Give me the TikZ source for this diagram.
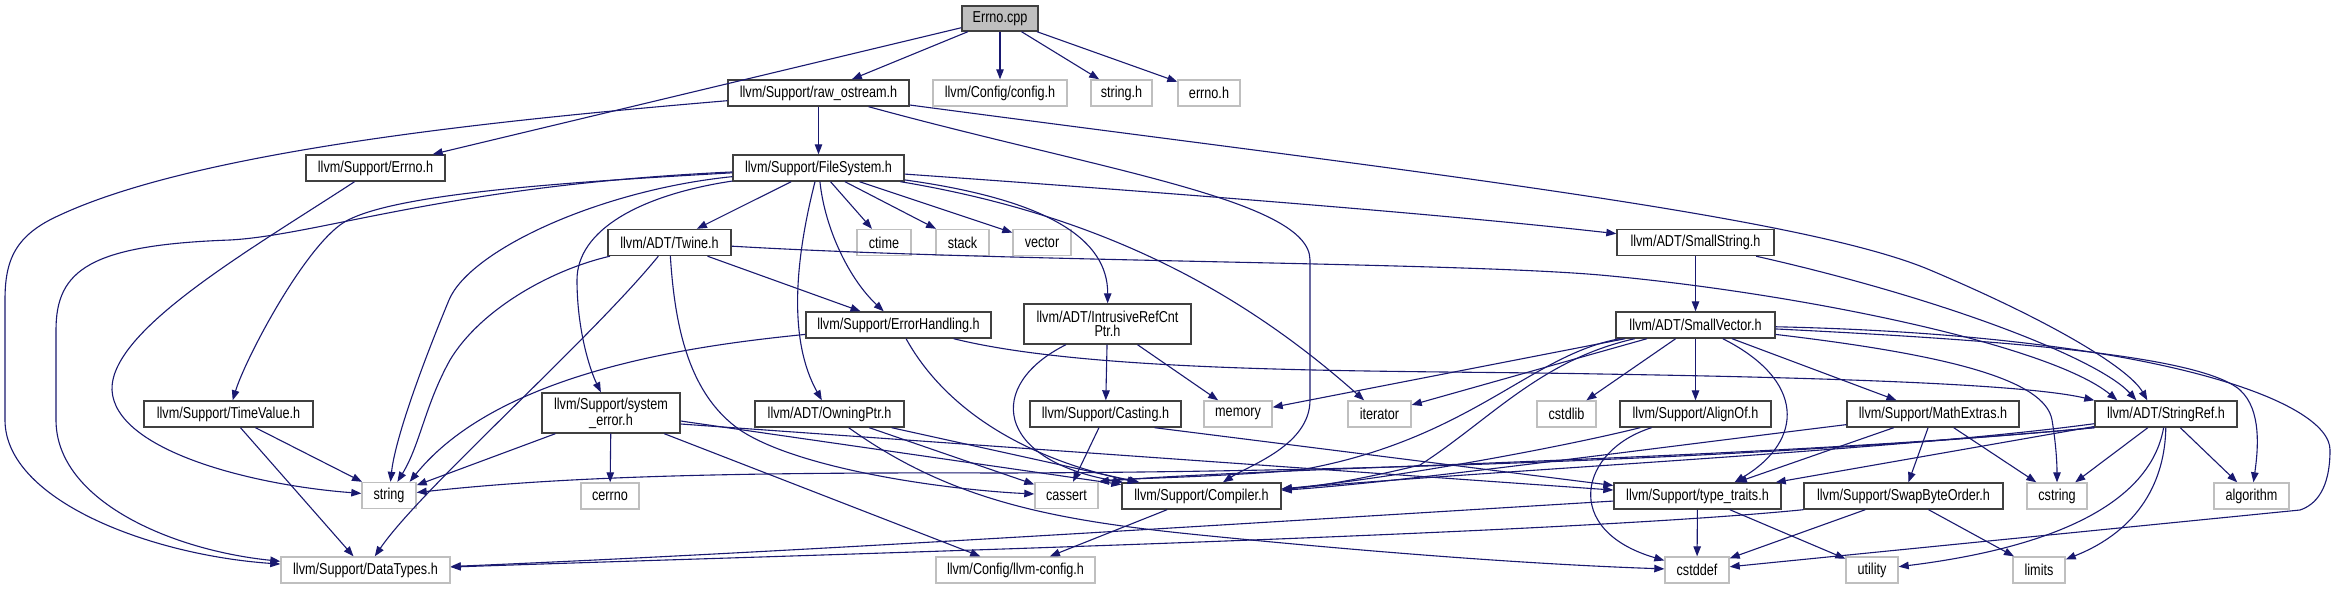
\documentclass[tikz,border=0pt]{standalone}
\usepackage{fontspec}
\newfontfamily\dox[FakeStretch=0.80]{Liberation Sans}
\usetikzlibrary{arrows.meta}
\definecolor{edgeblue}{HTML}{191970}
\definecolor{boxgray}{HTML}{BFBFBF}
\definecolor{boxdark}{HTML}{404040}
\begin{document}
\begin{tikzpicture}[x=1pt,y=-1pt,
  nd/.style={draw=boxdark,line width=1.4pt,fill=white,inner sep=0pt,minimum height=26pt,font={\dox\fontsize{15.8}{14.5}\selectfont}},
  ext/.style={nd,draw=boxgray},
  two/.style={minimum height=40pt,align=center},
  e/.style={draw=edgeblue,line width=1.1pt,-{Triangle[length=10pt,width=7.5pt]}}]
\fill[white] (0,0) rectangle (2336,589);
\useasboundingbox (0,0) rectangle (2336,589);
% nodes
\node[nd,fill=boxgray,minimum width=76pt,minimum height=25pt] (cpp) at (1000,18.5) {Errno.cpp};
\node[nd,minimum width=181pt] (raw) at (818.5,93) {llvm/Support/raw\_ostream.h};
\node[ext,minimum width=134pt] (cfg) at (1000,93) {llvm/Config/config.h};
\node[ext,minimum width=61pt] (strh) at (1121.5,93) {string.h};
\node[ext,minimum width=62pt] (errnoh) at (1209,93) {errno.h};
\node[nd,minimum width=139pt] (errh) at (375.5,168) {llvm/Support/Errno.h};
\node[nd,minimum width=171pt] (fs) at (818.5,168) {llvm/Support/FileSystem.h};
\node[nd,minimum width=123pt] (twine) at (669.5,242.5) {llvm/ADT/Twine.h};
\node[ext,minimum width=54pt] (ctime) at (884,242.5) {ctime};
\node[ext,minimum width=53pt] (stack) at (962.5,242.5) {stack};
\node[ext,minimum width=58pt] (vector) at (1042,242.5) {vector};
\node[nd,minimum width=157pt] (sstr) at (1695.5,242.5) {llvm/ADT/SmallString.h};
\node[nd,minimum width=185pt] (eh) at (898.5,325) {llvm/Support/ErrorHandling.h};
\node[nd,two,minimum width=167pt] (irc) at (1107.5,324) {llvm/ADT/IntrusiveRefCnt\\Ptr.h};
\node[nd,minimum width=159pt] (svec) at (1695.5,325) {llvm/ADT/SmallVector.h};
\node[nd,minimum width=169pt] (tv) at (228.5,414) {llvm/Support/TimeValue.h};
\node[nd,two,minimum width=138pt] (se) at (611,413) {llvm/Support/system\\\_error.h};
\node[nd,minimum width=149pt] (own) at (829.5,414) {llvm/ADT/OwningPtr.h};
\node[nd,minimum width=151pt] (cast) at (1105.5,414) {llvm/Support/Casting.h};
\node[ext,minimum width=68pt] (memory) at (1238,414) {memory};
\node[ext,minimum width=63pt] (iter) at (1379.5,414) {iterator};
\node[ext,minimum width=59pt] (cstdlib) at (1566.5,414) {cstdlib};
\node[nd,minimum width=151pt] (align) at (1695.5,414) {llvm/Support/AlignOf.h};
\node[nd,minimum width=172pt] (math) at (1933,414) {llvm/Support/MathExtras.h};
\node[nd,minimum width=142pt] (sref) at (2166,414) {llvm/ADT/StringRef.h};
\node[ext,minimum width=54pt] (string) at (389,495.5) {string};
\node[ext,minimum width=58pt] (cerrno) at (610,496) {cerrno};
\node[ext,minimum width=63pt] (cassert) at (1066.5,495.5) {cassert};
\node[nd,minimum width=159pt] (comp) at (1201.5,496) {llvm/Support/Compiler.h};
\node[nd,minimum width=167pt] (tt) at (1697.5,496) {llvm/Support/type\_traits.h};
\node[nd,minimum width=199pt] (swap) at (1903.5,496) {llvm/Support/SwapByteOrder.h};
\node[ext,minimum width=60pt] (cstring) at (2057,496) {cstring};
\node[ext,minimum width=75pt] (algo) at (2251.5,496) {algorithm};
\node[ext,minimum width=169pt] (dt) at (365.5,570) {llvm/Support/DataTypes.h};
\node[ext,minimum width=159pt] (llcfg) at (1015.5,570) {llvm/Config/llvm-config.h};
\node[ext,minimum width=64pt] (cstddef) at (1697,570) {cstddef};
\node[ext,minimum width=52pt] (utility) at (1872,570) {utility};
\node[ext,minimum width=52pt] (limits) at (2039,570) {limits};
% Errno.cpp
\draw[e] (cpp) -- (errh);
\draw[e] (cpp) -- (raw);
\draw[e] (cpp) -- (cfg);
\draw[e] (cpp) -- (strh);
\draw[e] (cpp) -- (errnoh);
% raw_ostream
\draw[e] (raw) -- (fs);
\draw[e] (raw) .. controls (500,120) and (200,150) .. (60,215) .. controls (15,235) and (5,260) .. (5,300) -- (5,420) .. controls (5,500) and (150,555) .. (dt);
\draw[e] (raw) .. controls (1100,170) and (1310,200) .. (1310,260) -- (1310,400) .. controls (1310,445) and (1250,465) .. (comp);
\draw[e] (raw) .. controls (1400,170) and (1800,215) .. (1930,270) .. controls (2060,325) and (2130,370) .. ([xshift=53pt]sref.north west);
% Errno.h
\draw[e] (errh) .. controls (250,250) and (110,330) .. (112,390) .. controls (115,450) and (250,485) .. (string);
% FileSystem
\draw[e] (fs) -- (twine);
\draw[e] (fs) -- (ctime);
\draw[e] (fs) -- (stack);
\draw[e] (fs) -- (vector);
\draw[e] (fs) .. controls (1200,195) and (1450,215) .. (sstr);
\draw[e] (fs) .. controls (825,230) and (850,280) .. (eh);
\draw[e] (fs) .. controls (1050,200) and (1108,240) .. (irc);
\draw[e] (fs) .. controls (1100,215) and (1240,290) .. (iter);
\draw[e] (fs) .. controls (795,260) and (788,340) .. (own);
\draw[e] (fs) .. controls (640,195) and (577,230) .. (577,280) .. controls (577,330) and (590,370) .. (se);
\draw[e] (fs) .. controls (550,183) and (380,195) .. (340,225) .. controls (300,255) and (245,360) .. (tv);
\draw[e] (fs) .. controls (600,190) and (470,250) .. (449,300) .. controls (420,370) and (395,440) .. (string);
\draw[e] (fs) .. controls (450,185) and (320,235) .. (230,240) .. controls (90,245) and (56,270) .. (56,330) -- (56,420) .. controls (56,500) and (170,550) .. (dt);
% Twine
\draw[e] (twine) .. controls (550,270) and (480,310) .. (450,360) .. controls (425,405) and (420,445) .. (string);
\draw[e] (twine) .. controls (590,340) and (420,490) .. (dt);
\draw[e] (twine) -- (eh);
\draw[e] (twine) .. controls (1000,262) and (1450,262) .. (1600,275) .. controls (1800,293) and (2050,345) .. ([xshift=23pt]sref.north west);
\draw[e] (twine) .. controls (675,330) and (690,395) .. (740,430) .. controls (800,470) and (950,490) .. (cassert);
% ErrorHandling
\draw[e] (eh) .. controls (700,345) and (500,370) .. ([xshift=-7pt]string.north east);
\draw[e] (eh) .. controls (940,400) and (1010,455) .. (comp);
\draw[e] (eh) .. controls (1100,375) and (1400,370) .. (1600,374) .. controls (1850,378) and (2030,385) .. (sref.north west);
% IntrusiveRefCntPtr
\draw[e] (irc) -- (memory);
\draw[e] (irc) -- (cast);
\draw[e] (irc) .. controls (985,385) and (995,460) .. (comp);
% Casting
\draw[e] (cast) -- (cassert);
\draw[e] ([xshift=-27pt]cast.south east) -- (tt);
% OwningPtr
\draw[e] (own) -- (cassert);
\draw[e] (own) -- (comp);
\draw[e] (own) .. controls (950,500) and (1050,520) .. (1200,535) .. controls (1400,555) and (1550,565) .. (cstddef);
% system_error
\draw[e] (se) -- (string);
\draw[e] (se) -- (cerrno);
\draw[e] (se) -- (llcfg);
\draw[e] ([yshift=-8pt]se.east) -- (comp);
\draw[e] ([yshift=-11pt]se.east) -- (tt);
% TimeValue
\draw[e] (tv) -- (string);
\draw[e] (tv) -- (dt);
% SmallString
\draw[e] (sstr) -- (svec);
\draw[e] (sstr) .. controls (1950,300) and (2100,360) .. ([xshift=42pt]sref.north west);
% SmallVector
\draw[e] (svec) -- (align);
\draw[e] (svec) -- (cstdlib);
\draw[e] (svec) -- (math);
\draw[e] (svec) .. controls (1805,380) and (1805,440) .. ([xshift=37pt]tt.north);
\draw[e] (svec) .. controls (2000,340) and (2200,355) .. (2240,390) .. controls (2262,410) and (2258,450) .. (algo);
\draw[e] (svec) .. controls (1530,355) and (1470,440) .. (1300,470) .. controls (1200,478) and (1130,478) .. (cassert.north east);
\draw[e] (svec) .. controls (2150,335) and (2330,400) .. (2330,450) .. controls (2330,490) and (2315,505) .. (2300,510) -- (cstddef);
\draw[e] (svec) .. controls (1950,355) and (2045,380) .. (2052,420) .. controls (2057,450) and (2057,470) .. (cstring);
\draw[e] (svec) -- (iter);
\draw[e] (svec) -- (memory);
\draw[e] (svec) .. controls (1540,360) and (1490,420) .. (1420,465) .. controls (1350,482) and (1310,487) .. (comp);
% AlignOf
\draw[e] (align) .. controls (1550,450) and (1380,480) .. (comp);
\draw[e] (align) .. controls (1580,450) and (1560,530) .. (cstddef);
% MathExtras
\draw[e] (math) .. controls (1600,455) and (1400,482) .. (comp);
\draw[e] (math) -- (swap);
\draw[e] (math) -- (tt);
\draw[e] (math) -- (cstring);
% SwapByteOrder
\draw[e] (swap.south west) .. controls (1550,535) and (800,555) .. (dt);
\draw[e] (swap) -- (cstddef);
\draw[e] (swap) -- (limits);
% StringRef
\draw[e] (sref) .. controls (1900,450) and (1500,470) .. (comp);
\draw[e] (sref) -- (tt);
\draw[e] (sref) -- (algo);
\draw[e] (sref.south west) .. controls (1750,460) and (1250,468) .. (cassert.north east);
\draw[e] (sref) -- (cstring);
\draw[e] (sref) .. controls (2165,480) and (2140,530) .. (limits);
\draw[e] (sref.south west) .. controls (1800,455) and (1400,472) .. (1000,473) .. controls (700,472) and (550,478) .. ([yshift=3pt]string.east);
\draw[e] (sref) .. controls (2150,505) and (2050,548) .. (utility);
% type_traits
\draw[e] (tt) .. controls (1300,520) and (800,552) .. (dt);
\draw[e] (tt) -- (cstddef);
\draw[e] (tt) -- (utility);
% Compiler
\draw[e] (comp) -- (llcfg);
\end{tikzpicture}
\end{document}
